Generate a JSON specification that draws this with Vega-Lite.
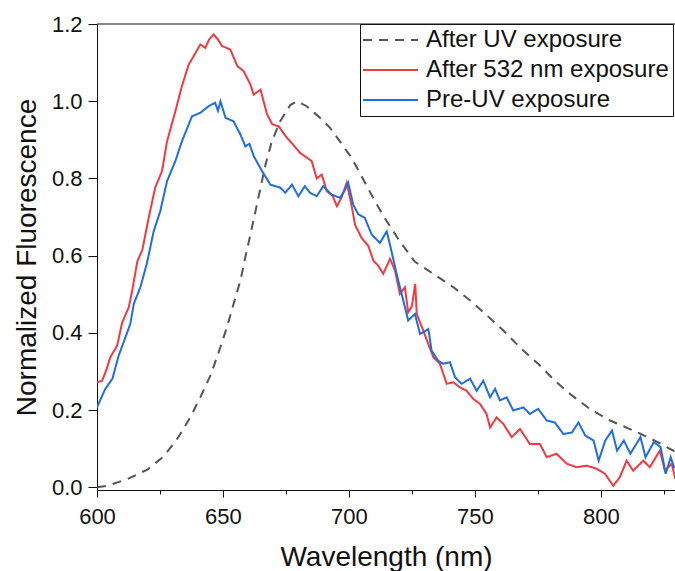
{
  "$schema": "https://vega.github.io/schema/vega-lite/v6.json",
  "width": 578,
  "height": 466,
  "autosize": {"type": "none"},
  "padding": {"left": 97, "top": 24, "right": 0, "bottom": 81},
  "background": "white",
  "config": {
    "view": {"stroke": null},
    "font": "Liberation Sans",
    "axis": {
      "grid": false,
      "domainColor": "#111111",
      "tickColor": "#111111",
      "labelColor": "#111111",
      "titleColor": "#111111",
      "labelFont": "Liberation Sans",
      "titleFont": "Liberation Sans",
      "labelFontSize": 22,
      "titleFontSize": 28,
      "titleFontWeight": "normal",
      "labelFlush": false,
      "labelOverlap": false
    }
  },
  "layer": [
    {
      "data": {"values": [{"top": 1.2}]},
      "mark": {"type": "rule", "color": "#111111", "strokeWidth": 1},
      "encoding": {"y": {"field": "top", "type": "quantitative"}}
    },
    {
      "data": {"values": [
        {"series": "After UV exposure", "wl": 600, "v": 0.0},
        {"series": "After UV exposure", "wl": 604, "v": 0.004},
        {"series": "After UV exposure", "wl": 612, "v": 0.021},
        {"series": "After UV exposure", "wl": 620, "v": 0.046},
        {"series": "After UV exposure", "wl": 626.5, "v": 0.08},
        {"series": "After UV exposure", "wl": 632, "v": 0.127},
        {"series": "After UV exposure", "wl": 637, "v": 0.181},
        {"series": "After UV exposure", "wl": 641, "v": 0.233},
        {"series": "After UV exposure", "wl": 645, "v": 0.289},
        {"series": "After UV exposure", "wl": 648.3, "v": 0.35},
        {"series": "After UV exposure", "wl": 651.6, "v": 0.415},
        {"series": "After UV exposure", "wl": 654.2, "v": 0.475},
        {"series": "After UV exposure", "wl": 656.9, "v": 0.535},
        {"series": "After UV exposure", "wl": 658.9, "v": 0.597},
        {"series": "After UV exposure", "wl": 660.9, "v": 0.655},
        {"series": "After UV exposure", "wl": 662.9, "v": 0.715},
        {"series": "After UV exposure", "wl": 664.9, "v": 0.776},
        {"series": "After UV exposure", "wl": 666.9, "v": 0.836},
        {"series": "After UV exposure", "wl": 669.4, "v": 0.896},
        {"series": "After UV exposure", "wl": 672.7, "v": 0.948},
        {"series": "After UV exposure", "wl": 676.7, "v": 0.99},
        {"series": "After UV exposure", "wl": 679.5, "v": 1.0},
        {"series": "After UV exposure", "wl": 683.2, "v": 0.987},
        {"series": "After UV exposure", "wl": 688.5, "v": 0.957},
        {"series": "After UV exposure", "wl": 692.5, "v": 0.931},
        {"series": "After UV exposure", "wl": 696.4, "v": 0.896},
        {"series": "After UV exposure", "wl": 701.1, "v": 0.853},
        {"series": "After UV exposure", "wl": 705.7, "v": 0.797},
        {"series": "After UV exposure", "wl": 710.3, "v": 0.741},
        {"series": "After UV exposure", "wl": 715, "v": 0.689},
        {"series": "After UV exposure", "wl": 720.2, "v": 0.637},
        {"series": "After UV exposure", "wl": 726.2, "v": 0.584},
        {"series": "After UV exposure", "wl": 733.5, "v": 0.553},
        {"series": "After UV exposure", "wl": 741.5, "v": 0.518},
        {"series": "After UV exposure", "wl": 748.1, "v": 0.484},
        {"series": "After UV exposure", "wl": 754.8, "v": 0.445},
        {"series": "After UV exposure", "wl": 761.3, "v": 0.406},
        {"series": "After UV exposure", "wl": 768.5, "v": 0.358},
        {"series": "After UV exposure", "wl": 775.1, "v": 0.32},
        {"series": "After UV exposure", "wl": 781.7, "v": 0.276},
        {"series": "After UV exposure", "wl": 788.5, "v": 0.238},
        {"series": "After UV exposure", "wl": 795.6, "v": 0.203},
        {"series": "After UV exposure", "wl": 803.6, "v": 0.173},
        {"series": "After UV exposure", "wl": 812.9, "v": 0.147},
        {"series": "After UV exposure", "wl": 821.4, "v": 0.121},
        {"series": "After UV exposure", "wl": 828.7, "v": 0.095},
        {"series": "After UV exposure", "wl": 830, "v": 0.09},

        {"series": "After 532 nm exposure", "wl": 600, "v": 0.272},
        {"series": "After 532 nm exposure", "wl": 602, "v": 0.276},
        {"series": "After 532 nm exposure", "wl": 603.5, "v": 0.3},
        {"series": "After 532 nm exposure", "wl": 605.3, "v": 0.337},
        {"series": "After 532 nm exposure", "wl": 608, "v": 0.367},
        {"series": "After 532 nm exposure", "wl": 610, "v": 0.427},
        {"series": "After 532 nm exposure", "wl": 612.6, "v": 0.466},
        {"series": "After 532 nm exposure", "wl": 614, "v": 0.51},
        {"series": "After 532 nm exposure", "wl": 616, "v": 0.585},
        {"series": "After 532 nm exposure", "wl": 618, "v": 0.615},
        {"series": "After 532 nm exposure", "wl": 620.5, "v": 0.698},
        {"series": "After 532 nm exposure", "wl": 623.1, "v": 0.776},
        {"series": "After 532 nm exposure", "wl": 625.8, "v": 0.819},
        {"series": "After 532 nm exposure", "wl": 627.8, "v": 0.896},
        {"series": "After 532 nm exposure", "wl": 631.1, "v": 0.974},
        {"series": "After 532 nm exposure", "wl": 633.7, "v": 1.039},
        {"series": "After 532 nm exposure", "wl": 636.4, "v": 1.095},
        {"series": "After 532 nm exposure", "wl": 638.4, "v": 1.117},
        {"series": "After 532 nm exposure", "wl": 641, "v": 1.147},
        {"series": "After 532 nm exposure", "wl": 643, "v": 1.138},
        {"series": "After 532 nm exposure", "wl": 644.5, "v": 1.16},
        {"series": "After 532 nm exposure", "wl": 646.3, "v": 1.173},
        {"series": "After 532 nm exposure", "wl": 648, "v": 1.16},
        {"series": "After 532 nm exposure", "wl": 649.6, "v": 1.143},
        {"series": "After 532 nm exposure", "wl": 652.9, "v": 1.134},
        {"series": "After 532 nm exposure", "wl": 655.7, "v": 1.091},
        {"series": "After 532 nm exposure", "wl": 658.2, "v": 1.078},
        {"series": "After 532 nm exposure", "wl": 660.9, "v": 1.043},
        {"series": "After 532 nm exposure", "wl": 662.2, "v": 1.017},
        {"series": "After 532 nm exposure", "wl": 664.9, "v": 1.03},
        {"series": "After 532 nm exposure", "wl": 667.5, "v": 0.966},
        {"series": "After 532 nm exposure", "wl": 669.6, "v": 0.94},
        {"series": "After 532 nm exposure", "wl": 672.1, "v": 0.935},
        {"series": "After 532 nm exposure", "wl": 675.4, "v": 0.905},
        {"series": "After 532 nm exposure", "wl": 677.5, "v": 0.89},
        {"series": "After 532 nm exposure", "wl": 680.6, "v": 0.866},
        {"series": "After 532 nm exposure", "wl": 683, "v": 0.855},
        {"series": "After 532 nm exposure", "wl": 685.2, "v": 0.845},
        {"series": "After 532 nm exposure", "wl": 687.2, "v": 0.8},
        {"series": "After 532 nm exposure", "wl": 689.2, "v": 0.81},
        {"series": "After 532 nm exposure", "wl": 691.2, "v": 0.767},
        {"series": "After 532 nm exposure", "wl": 693.5, "v": 0.755},
        {"series": "After 532 nm exposure", "wl": 695.2, "v": 0.728},
        {"series": "After 532 nm exposure", "wl": 697, "v": 0.75},
        {"series": "After 532 nm exposure", "wl": 699.1, "v": 0.789},
        {"series": "After 532 nm exposure", "wl": 701.1, "v": 0.728},
        {"series": "After 532 nm exposure", "wl": 702.4, "v": 0.68},
        {"series": "After 532 nm exposure", "wl": 705, "v": 0.646},
        {"series": "After 532 nm exposure", "wl": 707.7, "v": 0.625},
        {"series": "After 532 nm exposure", "wl": 709.7, "v": 0.587},
        {"series": "After 532 nm exposure", "wl": 711.5, "v": 0.575},
        {"series": "After 532 nm exposure", "wl": 713.6, "v": 0.553},
        {"series": "After 532 nm exposure", "wl": 716.3, "v": 0.592},
        {"series": "After 532 nm exposure", "wl": 718.3, "v": 0.561},
        {"series": "After 532 nm exposure", "wl": 720.2, "v": 0.501},
        {"series": "After 532 nm exposure", "wl": 722.2, "v": 0.518},
        {"series": "After 532 nm exposure", "wl": 723.5, "v": 0.453},
        {"series": "After 532 nm exposure", "wl": 725, "v": 0.47},
        {"series": "After 532 nm exposure", "wl": 726.3, "v": 0.527},
        {"series": "After 532 nm exposure", "wl": 726.9, "v": 0.449},
        {"series": "After 532 nm exposure", "wl": 729.5, "v": 0.406},
        {"series": "After 532 nm exposure", "wl": 731.5, "v": 0.371},
        {"series": "After 532 nm exposure", "wl": 733.5, "v": 0.337},
        {"series": "After 532 nm exposure", "wl": 736.1, "v": 0.32},
        {"series": "After 532 nm exposure", "wl": 738.8, "v": 0.268},
        {"series": "After 532 nm exposure", "wl": 741.4, "v": 0.272},
        {"series": "After 532 nm exposure", "wl": 744, "v": 0.259},
        {"series": "After 532 nm exposure", "wl": 746.7, "v": 0.25},
        {"series": "After 532 nm exposure", "wl": 749.3, "v": 0.229},
        {"series": "After 532 nm exposure", "wl": 752, "v": 0.216},
        {"series": "After 532 nm exposure", "wl": 754.6, "v": 0.19},
        {"series": "After 532 nm exposure", "wl": 756, "v": 0.155},
        {"series": "After 532 nm exposure", "wl": 758.6, "v": 0.181},
        {"series": "After 532 nm exposure", "wl": 761.3, "v": 0.164},
        {"series": "After 532 nm exposure", "wl": 764.6, "v": 0.13},
        {"series": "After 532 nm exposure", "wl": 767.9, "v": 0.151},
        {"series": "After 532 nm exposure", "wl": 771.8, "v": 0.112},
        {"series": "After 532 nm exposure", "wl": 775.8, "v": 0.112},
        {"series": "After 532 nm exposure", "wl": 778.5, "v": 0.078},
        {"series": "After 532 nm exposure", "wl": 782.4, "v": 0.087},
        {"series": "After 532 nm exposure", "wl": 786.4, "v": 0.061},
        {"series": "After 532 nm exposure", "wl": 790.4, "v": 0.052},
        {"series": "After 532 nm exposure", "wl": 794.4, "v": 0.056},
        {"series": "After 532 nm exposure", "wl": 798.3, "v": 0.048},
        {"series": "After 532 nm exposure", "wl": 801.6, "v": 0.035},
        {"series": "After 532 nm exposure", "wl": 804.9, "v": 0.004},
        {"series": "After 532 nm exposure", "wl": 807.5, "v": 0.026},
        {"series": "After 532 nm exposure", "wl": 810.2, "v": 0.069},
        {"series": "After 532 nm exposure", "wl": 812.8, "v": 0.043},
        {"series": "After 532 nm exposure", "wl": 816.8, "v": 0.069},
        {"series": "After 532 nm exposure", "wl": 819.4, "v": 0.052},
        {"series": "After 532 nm exposure", "wl": 823.4, "v": 0.095},
        {"series": "After 532 nm exposure", "wl": 825.4, "v": 0.043},
        {"series": "After 532 nm exposure", "wl": 828.1, "v": 0.061},
        {"series": "After 532 nm exposure", "wl": 829.4, "v": 0.026},
        {"series": "After 532 nm exposure", "wl": 830, "v": 0.03},

        {"series": "Pre-UV exposure", "wl": 600, "v": 0.207},
        {"series": "Pre-UV exposure", "wl": 603.3, "v": 0.255},
        {"series": "Pre-UV exposure", "wl": 606.1, "v": 0.281},
        {"series": "Pre-UV exposure", "wl": 608.6, "v": 0.341},
        {"series": "Pre-UV exposure", "wl": 611.3, "v": 0.389},
        {"series": "Pre-UV exposure", "wl": 613.2, "v": 0.423},
        {"series": "Pre-UV exposure", "wl": 614.6, "v": 0.475},
        {"series": "Pre-UV exposure", "wl": 617.2, "v": 0.518},
        {"series": "Pre-UV exposure", "wl": 619.8, "v": 0.58},
        {"series": "Pre-UV exposure", "wl": 622.5, "v": 0.663},
        {"series": "Pre-UV exposure", "wl": 625.1, "v": 0.715},
        {"series": "Pre-UV exposure", "wl": 627.8, "v": 0.793},
        {"series": "Pre-UV exposure", "wl": 631.1, "v": 0.845},
        {"series": "Pre-UV exposure", "wl": 633.7, "v": 0.896},
        {"series": "Pre-UV exposure", "wl": 637.7, "v": 0.961},
        {"series": "Pre-UV exposure", "wl": 641, "v": 0.97},
        {"series": "Pre-UV exposure", "wl": 644.3, "v": 0.987},
        {"series": "Pre-UV exposure", "wl": 646.9, "v": 0.996},
        {"series": "Pre-UV exposure", "wl": 648, "v": 0.975},
        {"series": "Pre-UV exposure", "wl": 649, "v": 1.0},
        {"series": "Pre-UV exposure", "wl": 651, "v": 0.957},
        {"series": "Pre-UV exposure", "wl": 654.2, "v": 0.948},
        {"series": "Pre-UV exposure", "wl": 656.9, "v": 0.914},
        {"series": "Pre-UV exposure", "wl": 658.9, "v": 0.883},
        {"series": "Pre-UV exposure", "wl": 660.5, "v": 0.89},
        {"series": "Pre-UV exposure", "wl": 662.2, "v": 0.858},
        {"series": "Pre-UV exposure", "wl": 665.5, "v": 0.819},
        {"series": "Pre-UV exposure", "wl": 668.8, "v": 0.784},
        {"series": "Pre-UV exposure", "wl": 672.8, "v": 0.776},
        {"series": "Pre-UV exposure", "wl": 674.7, "v": 0.763},
        {"series": "Pre-UV exposure", "wl": 677.4, "v": 0.784},
        {"series": "Pre-UV exposure", "wl": 679.9, "v": 0.754},
        {"series": "Pre-UV exposure", "wl": 682.5, "v": 0.78},
        {"series": "Pre-UV exposure", "wl": 684.5, "v": 0.763},
        {"series": "Pre-UV exposure", "wl": 687.2, "v": 0.754},
        {"series": "Pre-UV exposure", "wl": 689.8, "v": 0.78},
        {"series": "Pre-UV exposure", "wl": 693.1, "v": 0.758},
        {"series": "Pre-UV exposure", "wl": 696.4, "v": 0.75},
        {"series": "Pre-UV exposure", "wl": 698, "v": 0.765},
        {"series": "Pre-UV exposure", "wl": 699.7, "v": 0.789},
        {"series": "Pre-UV exposure", "wl": 701.7, "v": 0.732},
        {"series": "Pre-UV exposure", "wl": 703.7, "v": 0.707},
        {"series": "Pre-UV exposure", "wl": 706.3, "v": 0.698},
        {"series": "Pre-UV exposure", "wl": 709, "v": 0.655},
        {"series": "Pre-UV exposure", "wl": 712.3, "v": 0.633},
        {"series": "Pre-UV exposure", "wl": 715, "v": 0.663},
        {"series": "Pre-UV exposure", "wl": 716.9, "v": 0.611},
        {"series": "Pre-UV exposure", "wl": 718.9, "v": 0.553},
        {"series": "Pre-UV exposure", "wl": 720.9, "v": 0.501},
        {"series": "Pre-UV exposure", "wl": 723.5, "v": 0.432},
        {"series": "Pre-UV exposure", "wl": 726.2, "v": 0.449},
        {"series": "Pre-UV exposure", "wl": 728.2, "v": 0.397},
        {"series": "Pre-UV exposure", "wl": 731.5, "v": 0.41},
        {"series": "Pre-UV exposure", "wl": 732.8, "v": 0.354},
        {"series": "Pre-UV exposure", "wl": 735.4, "v": 0.328},
        {"series": "Pre-UV exposure", "wl": 737.4, "v": 0.32},
        {"series": "Pre-UV exposure", "wl": 740.1, "v": 0.324},
        {"series": "Pre-UV exposure", "wl": 742.1, "v": 0.285},
        {"series": "Pre-UV exposure", "wl": 744.7, "v": 0.268},
        {"series": "Pre-UV exposure", "wl": 748.1, "v": 0.281},
        {"series": "Pre-UV exposure", "wl": 750.7, "v": 0.25},
        {"series": "Pre-UV exposure", "wl": 753.3, "v": 0.276},
        {"series": "Pre-UV exposure", "wl": 756, "v": 0.233},
        {"series": "Pre-UV exposure", "wl": 758, "v": 0.255},
        {"series": "Pre-UV exposure", "wl": 759.9, "v": 0.225},
        {"series": "Pre-UV exposure", "wl": 762.6, "v": 0.233},
        {"series": "Pre-UV exposure", "wl": 765.2, "v": 0.199},
        {"series": "Pre-UV exposure", "wl": 769.2, "v": 0.207},
        {"series": "Pre-UV exposure", "wl": 771.8, "v": 0.19},
        {"series": "Pre-UV exposure", "wl": 775.1, "v": 0.203},
        {"series": "Pre-UV exposure", "wl": 778.5, "v": 0.173},
        {"series": "Pre-UV exposure", "wl": 781.7, "v": 0.168},
        {"series": "Pre-UV exposure", "wl": 785.1, "v": 0.138},
        {"series": "Pre-UV exposure", "wl": 788.5, "v": 0.142},
        {"series": "Pre-UV exposure", "wl": 791.1, "v": 0.168},
        {"series": "Pre-UV exposure", "wl": 793.8, "v": 0.134},
        {"series": "Pre-UV exposure", "wl": 797.1, "v": 0.121},
        {"series": "Pre-UV exposure", "wl": 799.1, "v": 0.069},
        {"series": "Pre-UV exposure", "wl": 801.7, "v": 0.121},
        {"series": "Pre-UV exposure", "wl": 804.4, "v": 0.147},
        {"series": "Pre-UV exposure", "wl": 806.4, "v": 0.095},
        {"series": "Pre-UV exposure", "wl": 809.1, "v": 0.121},
        {"series": "Pre-UV exposure", "wl": 811.7, "v": 0.087},
        {"series": "Pre-UV exposure", "wl": 815.7, "v": 0.13},
        {"series": "Pre-UV exposure", "wl": 817.7, "v": 0.078},
        {"series": "Pre-UV exposure", "wl": 821, "v": 0.117},
        {"series": "Pre-UV exposure", "wl": 823.7, "v": 0.104},
        {"series": "Pre-UV exposure", "wl": 825.7, "v": 0.035},
        {"series": "Pre-UV exposure", "wl": 827.7, "v": 0.078},
        {"series": "Pre-UV exposure", "wl": 829, "v": 0.052},
        {"series": "Pre-UV exposure", "wl": 830, "v": 0.05}
      ]},
      "mark": {"type": "line", "strokeWidth": 2, "clip": true},
      "encoding": {
        "x": {
          "field": "wl", "type": "quantitative",
          "scale": {"domain": [600, 829.4], "nice": false, "zero": false},
          "axis": {
            "title": "Wavelength (nm)",
            "values": [600, 625, 650, 675, 700, 725, 750, 775, 800, 825],
            "labelExpr": "datum.value % 50 === 0 ? datum.label : ''",
            "tickSize": {"condition": {"test": "datum.value % 50 === 0", "value": 7}, "value": 4},
            "labelPadding": 9,
            "titlePadding": 16
          }
        },
        "y": {
          "field": "v", "type": "quantitative",
          "scale": {"domain": [-0.007, 1.2], "nice": false, "zero": false},
          "axis": {
            "title": "Normalized Fluorescence",
            "values": [0, 0.1, 0.2, 0.3, 0.4, 0.5, 0.6, 0.7, 0.8, 0.9, 1.0, 1.1, 1.2],
            "format": ".1f",
            "labelExpr": "round(datum.value * 10) % 2 === 0 ? datum.label : ''",
            "tickSize": {"condition": {"test": "round(datum.value * 10) % 2 === 0", "value": 9}, "value": 5},
            "labelPadding": 6,
            "titlePadding": 10
          }
        },
        "color": {
          "field": "series", "type": "nominal",
          "scale": {
            "domain": ["After UV exposure", "After 532 nm exposure", "Pre-UV exposure"],
            "range": ["#555555", "#ee3a40", "#1f6de0"]
          },
          "legend": {
            "title": null, "orient": "none", "legendX": 263, "legendY": 0,
            "symbolType": "M-2.36,0H7.64", "symbolSize": 121, "symbolStrokeWidth": 2,
            "labelFontSize": 24, "labelFont": "Liberation Sans", "labelColor": "#111111",
            "labelOffset": 38, "padding": 4, "rowPadding": 6,
            "strokeColor": "#111111", "fillColor": "white", "labelLimit": 400
          }
        },
        "strokeDash": {
          "field": "series", "type": "nominal",
          "scale": {
            "domain": ["After UV exposure", "After 532 nm exposure", "Pre-UV exposure"],
            "range": [[9, 7], [1, 0], [1, 0]]
          },
          "legend": {
            "title": null, "orient": "none", "legendX": 263, "legendY": 0,
            "symbolType": "M-2.36,0H7.64", "symbolSize": 121, "symbolStrokeWidth": 2,
            "labelFontSize": 24, "labelFont": "Liberation Sans", "labelColor": "#111111",
            "labelOffset": 38, "padding": 4, "rowPadding": 6,
            "strokeColor": "#111111", "fillColor": "white", "labelLimit": 400
          }
        }
      }
    }
  ]
}
